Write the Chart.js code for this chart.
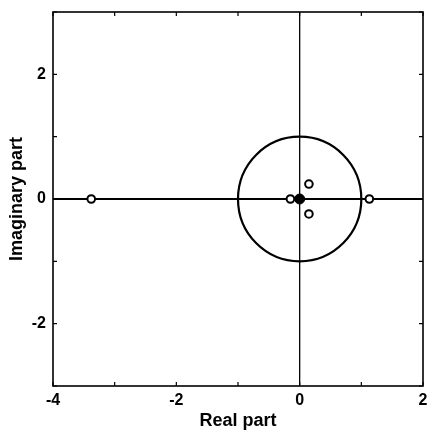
<!DOCTYPE html>
<html>
<head>
<meta charset="utf-8">
<script src="https://cdn.jsdelivr.net/npm/chart.js@4.4.1/dist/chart.umd.min.js"></script>
<style>
html,body{margin:0;padding:0;background:#fff;}
#wrap{width:429px;height:432px;}
</style>
</head>
<body>
<div id="wrap"><canvas id="c" width="429" height="432"></canvas></div>
<script>
// Data
const zeroReal = [-3.38, -0.15, 0.15, 0.15, 1.13];
const zeroImag = [0, 0, 0.24, -0.24, 0];
const poleReal = [0];
const poleImag = [0];
const xRange = [-4, 2];
const yRange = [-3, 3];
const unitCircleRadius = 1;
const xTitle = 'Real part';
const yTitle = 'Imaginary part';

const FONT = '"Liberation Sans", Arial, Helvetica, sans-serif';

const zeros = zeroReal.map((x, i) => ({x: x, y: zeroImag[i]}));
const poles = poleReal.map((x, i) => ({x: x, y: poleImag[i]}));

const framePlugin = {
  id: 'frame',
  beforeDatasetsDraw(chart) {
    const {ctx, chartArea: a, scales: {x, y}} = chart;
    ctx.save();
    const cx = x.getPixelForValue(0), cy = y.getPixelForValue(0);
    const rx = x.getPixelForValue(unitCircleRadius) - cx;
    const ry = cy - y.getPixelForValue(unitCircleRadius);
    ctx.beginPath();
    ctx.ellipse(cx, cy, rx, ry, 0, 0, Math.PI * 2);
    ctx.lineWidth = 2.2;
    ctx.strokeStyle = '#000';
    ctx.stroke();
    ctx.beginPath();
    ctx.moveTo(a.left, cy); ctx.lineTo(a.right, cy);
    ctx.lineWidth = 2.2; ctx.stroke();
    ctx.beginPath();
    ctx.moveTo(cx, a.top); ctx.lineTo(cx, a.bottom);
    ctx.lineWidth = 1.3; ctx.stroke();
    ctx.restore();
  },
  afterDatasetsDraw(chart) {
    const {ctx, chartArea: a, scales: {x, y}} = chart;
    ctx.save();
    ctx.strokeStyle = '#000';
    ctx.lineWidth = 1.6;
    ctx.strokeRect(a.left, a.top, a.right - a.left, a.bottom - a.top);
    ctx.lineWidth = 1.2;
    const L = 4;
    ctx.beginPath();
    x.ticks.forEach(t => {
      const px = x.getPixelForValue(t.value);
      ctx.moveTo(px, a.bottom); ctx.lineTo(px, a.bottom - L);
      ctx.moveTo(px, a.top); ctx.lineTo(px, a.top + L);
    });
    y.ticks.forEach(t => {
      const py = y.getPixelForValue(t.value);
      ctx.moveTo(a.left, py); ctx.lineTo(a.left + L, py);
      ctx.moveTo(a.right, py); ctx.lineTo(a.right - L, py);
    });
    ctx.stroke();
    ctx.restore();
  }
};

new Chart(document.getElementById('c'), {
  type: 'scatter',
  data: {
    datasets: [
      {
        label: 'Zeros',
        data: zeros,
        pointStyle: 'circle',
        pointRadius: 3.8,
        pointBorderWidth: 2,
        pointBackgroundColor: '#fff',
        pointBorderColor: '#000'
      },
      {
        label: 'Poles',
        data: poles,
        pointStyle: 'circle',
        pointRadius: 5,
        pointBorderWidth: 1,
        pointBackgroundColor: '#000',
        pointBorderColor: '#000'
      }
    ]
  },
  options: {
    responsive: false,
    animation: false,
    devicePixelRatio: 1,
    layout: {padding: {top: 12, right: 2, left: 0, bottom: 0}},
    plugins: {legend: {display: false}, tooltip: {enabled: false}},
    scales: {
      x: {
        type: 'linear',
        min: xRange[0], max: xRange[1],
        grid: {display: false, drawTicks: false},
        border: {display: false},
        ticks: {
          stepSize: 1,
          padding: 5,
          color: '#000',
          font: {family: FONT, size: 16, weight: 'bold'},
          maxRotation: 0,
          autoSkip: false,
          callback: v => (v % 2 === 0 ? String(v) : '')
        },
        title: {
          display: true, text: xTitle, color: '#000',
          font: {family: FONT, size: 18, weight: 'bold'},
          padding: {top: 0, bottom: 0}
        },
        afterFit: s => { s.height = 46; s.paddingLeft = 0; s.paddingRight = 0; }
      },
      y: {
        type: 'linear',
        min: yRange[0], max: yRange[1],
        grid: {display: false, drawTicks: false},
        border: {display: false},
        ticks: {
          stepSize: 1,
          padding: 7,
          color: '#000',
          font: {family: FONT, size: 16, weight: 'bold'},
          autoSkip: false,
          callback: v => (v % 2 === 0 ? String(v) : '')
        },
        title: {
          display: true, text: yTitle, color: '#000',
          font: {family: FONT, size: 18, weight: 'bold'},
          padding: {top: 6, bottom: 0}
        },
        afterFit: s => { s.width = 53; s.paddingTop = 0; s.paddingBottom = 0; }
      }
    }
  },
  plugins: [framePlugin]
});
</script>
</body>
</html>
